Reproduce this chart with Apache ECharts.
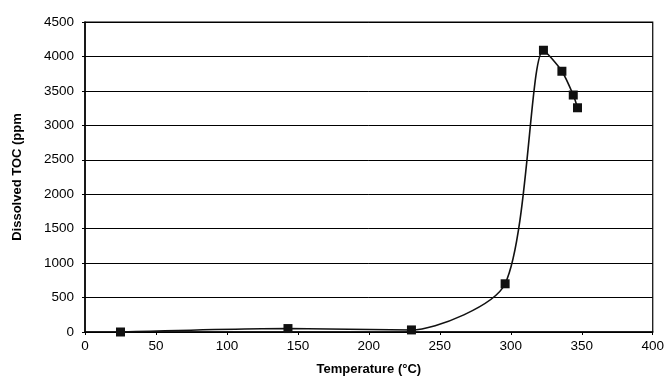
<!DOCTYPE html>
<html><head><meta charset="utf-8">
<script src="https://cdn.jsdelivr.net/npm/echarts@6/dist/echarts.min.js"></script>
<style>html,body{margin:0;padding:0;background:#fff}#c{width:667px;height:381px}</style>
</head><body><div id="c"></div>
<script>
const temperatures = [25, 143, 230, 296, 323, 336, 344, 347];
const tocValues = [0, 50, 30, 700, 4090, 3785, 3440, 3255];
const xTitle = 'Temperature (°C)';
const yTitle = 'Dissolved TOC (ppm';

const chart = echarts.init(document.getElementById('c'), null, {renderer: 'canvas'});
const font = '"Liberation Sans", Arial, sans-serif';
chart.setOption({
  animation: false,
  backgroundColor: '#fff',
  grid: {left: 85, right: 12, top: 22, bottom: 46, show: true, borderColor: '#000', borderWidth: 1.2, backgroundColor: 'transparent'},
  xAxis: {
    type: 'value', min: 0, max: 400, interval: 50,
    name: xTitle, nameLocation: 'middle', nameGap: 31,
    nameTextStyle: {fontFamily: font, fontSize: 13, fontWeight: 'bold', color: '#000'},
    axisLine: {show: true, lineStyle: {color: '#000', width: 1.5}},
    axisTick: {show: true, length: 3, lineStyle: {color: '#000'}},
    axisLabel: {fontFamily: font, fontSize: 13.5, color: '#000', margin: 7, formatter: v => String(v)},
    splitLine: {show: false}
  },
  yAxis: {
    type: 'value', min: 0, max: 4500, interval: 500,
    name: yTitle, nameLocation: 'middle', nameGap: 61, nameRotate: 90,
    nameTextStyle: {fontFamily: font, fontSize: 13, fontWeight: 'bold', color: '#000'},
    axisLine: {show: true, lineStyle: {color: '#000', width: 1.5}},
    axisTick: {show: true, length: 3, lineStyle: {color: '#000'}},
    axisLabel: {fontFamily: font, fontSize: 13.5, color: '#000', margin: 11, formatter: v => String(v)},
    splitLine: {show: true, lineStyle: {color: '#000', width: 1}}
  },
  series: [{
    type: 'line',
    data: temperatures.map((t, i) => [t, tocValues[i]]),
    smooth: 0.25,
    clip: false,
    symbol: 'rect', symbolSize: 9,
    itemStyle: {color: '#111'},
    lineStyle: {color: '#111', width: 1.6}
  }]
});
</script></body></html>
